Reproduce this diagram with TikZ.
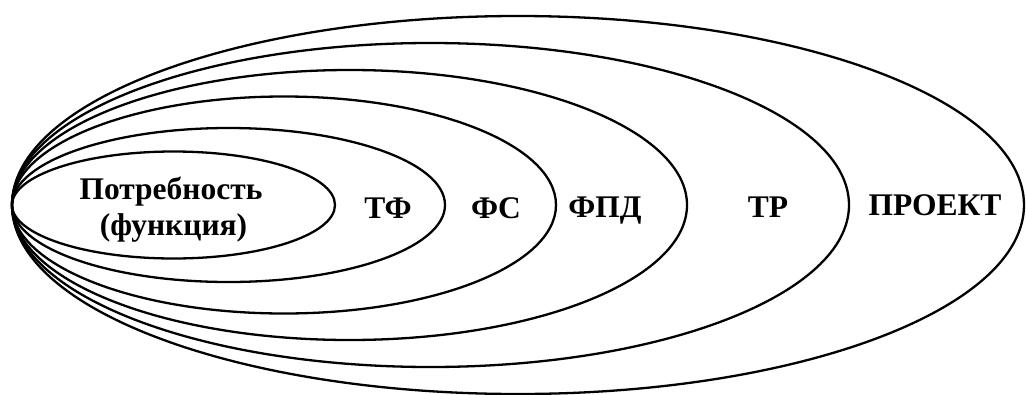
\documentclass[tikz,border=0pt]{standalone}
\usepackage{fontspec}
\setmainfont{Liberation Serif}
\begin{document}
\begin{tikzpicture}[x=1pt,y=-1pt,
  ring/.style={draw=black,line width=2.3pt},
  lbl/.style={font=\fontsize{31.5}{33}\selectfont\bfseries,inner sep=0pt,anchor=base}]
\useasboundingbox (0,0) rectangle (1026,394);
\draw[ring] (518,205) ellipse [x radius=506pt,y radius=189pt];
\draw[ring] (430.5,205) ellipse [x radius=418.5pt,y radius=162pt];
\draw[ring] (349.5,205) ellipse [x radius=337.5pt,y radius=135pt];
\draw[ring] (284,205) ellipse [x radius=272pt,y radius=108.5pt];
\draw[ring] (228.5,205) ellipse [x radius=216.5pt,y radius=77pt];
\draw[ring] (173.5,205) ellipse [x radius=161.5pt,y radius=53.5pt];
\node[lbl] (need) at (171,199) {Потребность};
\node[lbl] (func) at (173.5,235) {(функция)};
\node[lbl] (tf) at (388,218) {ТФ};
\node[lbl] (fs) at (496,218) {ФС};
\node[lbl] (fpd) at (605,217) {ФПД};
\node[lbl] (tr) at (768,217) {ТР};
\node[lbl] (proj) at (935,215.5) {ПРОЕКТ};
\end{tikzpicture}
\end{document}
